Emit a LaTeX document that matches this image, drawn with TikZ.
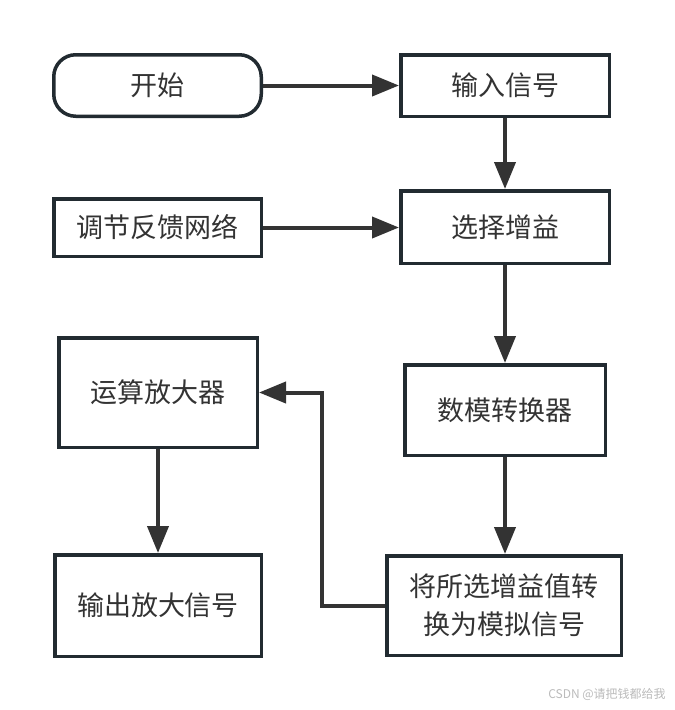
\documentclass[tikz,border=0pt]{standalone}
\usepackage{fontspec}
\setmainfont{Noto Sans CJK SC}
\usetikzlibrary{arrows.meta}
\definecolor{boxc}{HTML}{222B31}
\definecolor{linec}{HTML}{333333}
\definecolor{txtc}{HTML}{333333}
\definecolor{wmc}{HTML}{BBBBBB}
\begin{document}
\begin{tikzpicture}[x=1pt,y=-1pt,
  box/.style={draw=boxc, line width=3.5pt, fill=white, text=txtc,
    font=\fontsize{27}{38}\selectfont, inner sep=0pt, align=center},
  conn/.style={draw=linec, line width=4pt, -{Triangle[length=27pt,width=21pt]}}]
\useasboundingbox[fill=white] (0,0) rectangle (675,710);

\node[box, rounded corners=22pt, minimum width=207.5pt, minimum height=61.5pt] (start) at (157.5,85.5) {开始};
\node[box, minimum width=208.5pt, minimum height=61.5pt] (input) at (505,85.5) {输入信号};
\node[box, minimum width=207.5pt, minimum height=57.5pt] (adjust) at (157.5,227.5) {调节反馈网络};
\node[box, minimum width=208.5pt, minimum height=72.5pt] (select) at (505,227) {选择增益};
\node[box, minimum width=198.5pt, minimum height=109.5pt] (opamp) at (158,392.5) {运算放大器};
\node[box, minimum width=200.5pt, minimum height=90.5pt] (dac) at (505,410) {数模转换器};
\node[box, minimum width=206.5pt, minimum height=101.5pt] (output) at (158,605.5) {输出放大信号};
\node[box, minimum width=234.5pt, minimum height=99.5pt] (convert) at (504,605.5) {将所选增益值转\\换为模拟信号};

\coordinate (bend) at (322,605.5);

\draw[conn] (start.east) -- (input.west);
\draw[conn] (input.south) -- (select.north);
\draw[conn] (adjust.east) -- (adjust.east -| select.west);
\draw[conn] (select.south) -- (select.south |- dac.north);
\draw[conn] (dac.south) -- (dac.south |- convert.north);
\draw[conn] (convert.west) -- (bend) |- (opamp.east);
\draw[conn] (opamp.south) -- (output.north);

\node[font=\fontsize{12}{14}\selectfont, text=wmc] (wm) at (607,694) {CSDN @请把钱都给我};
\end{tikzpicture}
\end{document}
